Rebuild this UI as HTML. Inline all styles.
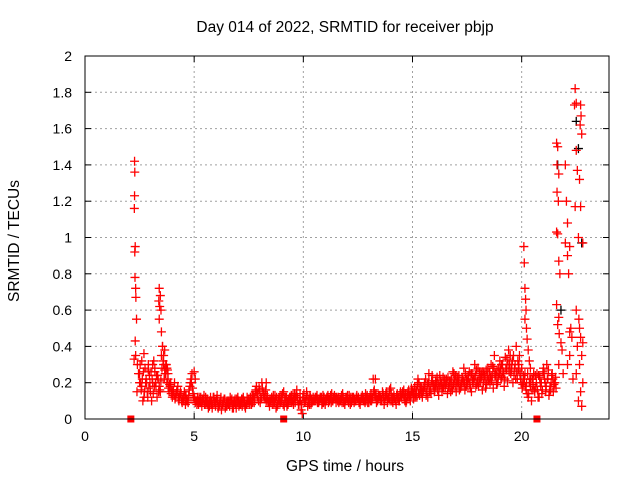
<!DOCTYPE html>
<html><head><meta charset="utf-8"><style>
body{margin:0;background:#fff}
svg{display:block;font-family:"Liberation Sans",sans-serif}
</style></head><body>
<svg id="chart" width="640" height="480" viewBox="0 0 640 480" xmlns="http://www.w3.org/2000/svg">
<rect width="640" height="480" fill="#fff"/>
<g id="grid"></g>
<g id="ticks"></g>
<g id="marks"></g>
<rect x="85" y="56" width="524" height="363" fill="none" stroke="#000" stroke-width="1"/>
<text x="345" y="32" font-size="15.5" text-anchor="middle">Day 014 of 2022, SRMTID for receiver pbjp</text>
<text x="345" y="471" font-size="15.5" text-anchor="middle">GPS time / hours</text>
<text x="19" y="241" font-size="15.5" text-anchor="middle" transform="rotate(-90 19 241)">SRMTID / TECUs</text>
</svg>
<script>
const xTicks=[0,5,10,15,20];
const yTicks=[0,0.2,0.4,0.6,0.8,1,1.2,1.4,1.6,1.8,2];
const yTickLabels=["0","0.2","0.4","0.6","0.8","1","1.2","1.4","1.6","1.8","2"];
const baseStart=2.5, baseStep=0.1;
const baseA=[.25,.18,.12,.22,.3,.15,.2,.28,.12,.18,.35,.3,.25,.22,.18,.12,.2,.15,.1,.14,.12,.08,.1,.18,.25,.12,.1,.08,.12,.1,.08,.11,.07,.1,.12,.09,.06,.1,.08,.11,.07,.09,.1,.06,.08,.12,.09,.07,.1,.08,.11,.1,.13,.15,.12,.16,.2,.14,.1,.09,.1,.08,.13,.07,.12,.1,.15,.09,.08,.12,.1,.14,.16,.08,.05,.12,.1,.07,.13,.09,.1,.12,.09,.11,.13,.08,.12,.1,.14,.11,.09,.12,.1,.14,.08,.11,.13,.09,.12,.1,.11,.08,.13,.1,.12,.09,.14,.22,.12,.1,.13,.1,.08,.15,.12,.17,.09,.11,.14,.1,.12,.16,.09,.13,.1,.15,.18,.12,.2,.14,.16,.22,.12,.18,.24,.15,.2,.13,.19,.23,.17,.14,.21,.18,.25,.15,.2,.17,.22,.16,.19,.26,.15,.22,.18,.28,.2,.16,.24,.19,.22,.3,.17,.25,.2,.32,.23,.18,.27,.38,.25,.2,.3,.22,.35,.28,.2,.16,.12,.18,.22,.15,.25,.12,.2,.28,.15,.22,.18,.25,.2];
const baseB=[.2,.1,.28,.15,.24,.1,.32,.18,.22,.15,.4,.27,.2,.15,.14,.16,.12,.18,.13,.09,.15,.1,.13,.22,.14,.09,.12,.1,.07,.13,.1,.06,.12,.08,.1,.13,.08,.05,.1,.07,.1,.12,.06,.09,.11,.07,.1,.12,.06,.1,.08,.13,.09,.18,.1,.12,.15,.11,.13,.07,.12,.1,.06,.11,.09,.14,.11,.07,.1,.13,.08,.12,.1,.14,.03,.09,.15,.11,.08,.12,.12,.09,.11,.08,.12,.1,.09,.13,.1,.12,.11,.1,.13,.09,.12,.1,.08,.12,.11,.13,.09,.12,.1,.14,.09,.12,.11,.16,.09,.13,.1,.14,.12,.09,.16,.1,.13,.08,.12,.15,.15,.1,.14,.12,.17,.11,.14,.22,.16,.12,.2,.15,.25,.14,.18,.21,.16,.24,.15,.2,.22,.18,.15,.26,.19,.23,.16,.2,.28,.18,.24,.17,.21,.3,.19,.22,.25,.2,.17,.28,.2,.24,.35,.19,.28,.22,.26,.34,.21,.3,.3,.24,.4,.27,.22,.19,.25,.14,.2,.1,.25,.18,.12,.2,.16,.22,.3,.13,.2,.15,.23];
const baseC=[.3,.22,.15,.2,.17,.26,.14,.2,.24,.16,.28,.22,.3,.17,.2,.15,.11,.16,.12,.1,.1,.13,.09,.2,.17,.11,.08,.12,.09,.11,.12,.08,.1,.06,.09,.11,.07,.12,.09,.06,.09,.07,.11,.1,.06,.1,.08,.11,.07,.12,.1,.08,.12,.16,.14,.09,.17,.12,.11,.1,.09,.13,.11,.08,.1,.12,.07,.12,.11,.1,.13,.09,.12,.1,.08,.14,.11,.09,.12,.1,.11,.13,.1,.12,.09,.11,.13,.11,.1,.13,.12,.09,.11,.12,.1,.13,.11,.1,.09,.12,.12,.1,.11,.09,.13,.11,.1,.15,.14,.11,.12,.15,.1,.13,.11,.14,.12,.1,.11,.13,.14,.12,.1,.16,.13,.15,.12,.19,.13,.17,.18,.13,.2,.16,.21,.17,.23,.18,.2,.17,.19,.23,.2,.16,.22,.2,.24,.18,.21,.25,.21,.19,.25,.22,.27,.18,.23,.26,.22,.24,.26,.21,.28,.24,.23,.27,.3,.22,.33,.26,.27,.35,.22,.32,.25,.17,.22,.2,.14,.22,.19,.24,.16,.23,.14,.25,.18,.27,.16,.22,.2];
const baseD=[.16,.26,.2,.12,.2,.22,.18,.24,.15,.21,.32,.25,.27,.19,.16,.13,.14,.12,.15,.11,.13,.11,.16,.2,.12,.1,.1,.09,.11,.08,.09,.1,.08,.12,.07,.1,.09,.08,.11,.09,.08,.1,.08,.11,.09,.08,.11,.09,.08,.1,.12,.09,.11,.14,.17,.11,.13,.16,.1,.11,.11,.09,.12,.1,.13,.08,.12,.1,.12,.09,.11,.13,.08,.1,.12,.1,.13,.08,.11,.1,.1,.11,.12,.09,.1,.12,.11,.09,.12,.11,.1,.11,.09,.1,.12,.09,.12,.11,.1,.11,.1,.11,.12,.1,.11,.1,.12,.13,.11,.12,.11,.12,.13,.11,.1,.12,.11,.13,.1,.12,.13,.14,.12,.13,.15,.14,.16,.14,.18,.15,.17,.19,.15,.21,.19,.18,.2,.21,.17,.22,.2,.17,.22,.19,.24,.21,.19,.23,.2,.22,.22,.25,.2,.24,.21,.26,.23,.25,.27,.21,.23,.29,.24,.27,.25,.3,.25,.28,.3,.35,.32,.28,.26,.3,.2,.24,.18,.25,.22,.16,.16,.2,.24,.18,.26,.2,.22,.15,.24,.19,.17];
const spikeT=[2.27,2.28,2.27,2.26,2.3,2.28,2.29,2.32,2.33,2.36,2.3,2.32,2.4,2.45,2.25,2.5,2.38,2.6,2.7,2.9,3.1,3.2,3.4,3.45,3.38,3.42,3.48,3.4,3.5,3.55,3.6,3.65,3.7,3.75,3.8,5.0,5.05,8.3,13.3,20.1,20.12,20.15,20.18,20.2,20.15,20.22,20.25,20.3,20.35,20.4,21.6,21.65,21.62,21.7,21.62,21.68,21.6,21.65,21.7,21.75,21.6,21.7,21.65,21.72,21.8,21.85,21.7,21.9,22.0,22.05,22.1,22.0,22.2,22.1,22.15,22.25,22.2,22.3,22.1,22.35,22.2,22.45,22.5,22.42,22.7,22.72,22.68,22.75,22.5,22.55,22.65,22.7,22.45,22.6,22.8,22.5,22.62,22.7,22.55,22.75,22.65,22.5,22.8,22.7,22.6,22.75,22.65,22.8];
const spikeV=[1.42,1.36,1.23,1.16,0.95,0.92,0.78,0.72,0.67,0.55,0.43,0.35,0.3,0.25,0.33,0.2,0.15,0.32,0.36,0.27,0.3,0.26,0.72,0.68,0.65,0.62,0.6,0.55,0.48,0.4,0.35,0.38,0.3,0.28,0.25,0.26,0.22,0.2,0.22,0.95,0.86,0.72,0.66,0.6,0.55,0.5,0.44,0.38,0.32,0.28,1.52,1.5,1.4,1.35,1.25,1.2,1.03,1.02,0.87,0.8,0.63,0.56,0.52,0.47,0.42,0.38,0.3,0.25,1.4,1.2,1.08,0.97,0.95,0.9,0.8,0.5,0.48,0.45,0.3,0.22,0.35,1.82,1.74,1.73,1.73,1.67,1.62,1.57,1.48,1.37,1.32,1.17,1.17,1.0,0.97,0.6,0.55,0.45,0.4,0.35,0.3,0.25,0.2,0.15,0.1,0.07,0.5,0.42];
const blackT=[21.65,21.8,22.5,22.6,22.75];
const blackV=[1.4,0.6,1.64,1.49,0.97];
const gapT=[2.1,9.1,20.7];

const NS="http://www.w3.org/2000/svg";
const X=t=>85+t*(524/24);
const Y=v=>419-v*(363/2);
function mk(tag,at,parent){const e=document.createElementNS(NS,tag);for(const k in at)e.setAttribute(k,at[k]);parent.appendChild(e);return e;}
const grid=document.getElementById('grid'),ticks=document.getElementById('ticks'),marks=document.getElementById('marks');
xTicks.forEach(t=>{const x=X(t);
 if(t>0){const g=mk('line',{x1:x,x2:x,y1:56,y2:419,stroke:'#a0a0a0','stroke-dasharray':'2,3'},grid);}
 const a=mk('line',{x1:x,x2:x,y1:419,y2:413,stroke:'#000'},ticks);
 const b=mk('line',{x1:x,x2:x,y1:56,y2:62,stroke:'#000'},ticks);
 const l=mk('text',{x:x,y:441,'font-size':14,'text-anchor':'middle'},ticks);l.textContent=t;});
yTicks.forEach((v,i)=>{const y=Y(v);
 if(v>0&&v<2){const g=mk('line',{x1:85,x2:609,y1:y,y2:y,stroke:'#a0a0a0','stroke-dasharray':'2,3'},grid);}
 const a=mk('line',{x1:85,x2:91,y1:y,y2:y,stroke:'#000'},ticks);
 const b=mk('line',{x1:603,x2:609,y1:y,y2:y,stroke:'#000'},ticks);
 const l=mk('text',{x:72,y:y+5,'font-size':14,'text-anchor':'end'},ticks);l.textContent=yTickLabels[i];});
function plus(t,v,col){const x=X(t),y=Y(v);
 const p=mk('path',{d:`M${x-4.5} ${y}H${x+4.5}M${x} ${y-4.5}V${y+4.5}`,stroke:col,'stroke-width':1.3,fill:'none'},marks);
 }
blackT.forEach((t,i)=>plus(t,blackV[i],'#000'));
baseA.forEach((v,i)=>plus(baseStart+i*baseStep,v,'#f00'));
baseC.forEach((v,i)=>plus(baseStart+baseStep/4+i*baseStep,v,'#f00'));
baseB.forEach((v,i)=>plus(baseStart+baseStep/2+i*baseStep,v,'#f00'));
baseD.forEach((v,i)=>plus(baseStart+3*baseStep/4+i*baseStep,v,'#f00'));
spikeT.forEach((t,i)=>plus(t,spikeV[i],'#f00'));
gapT.forEach(t=>{const s=mk('rect',{x:X(t)-3.5,y:415.5,width:7,height:7,fill:'#f00'},marks);});
</script>
</body></html>
